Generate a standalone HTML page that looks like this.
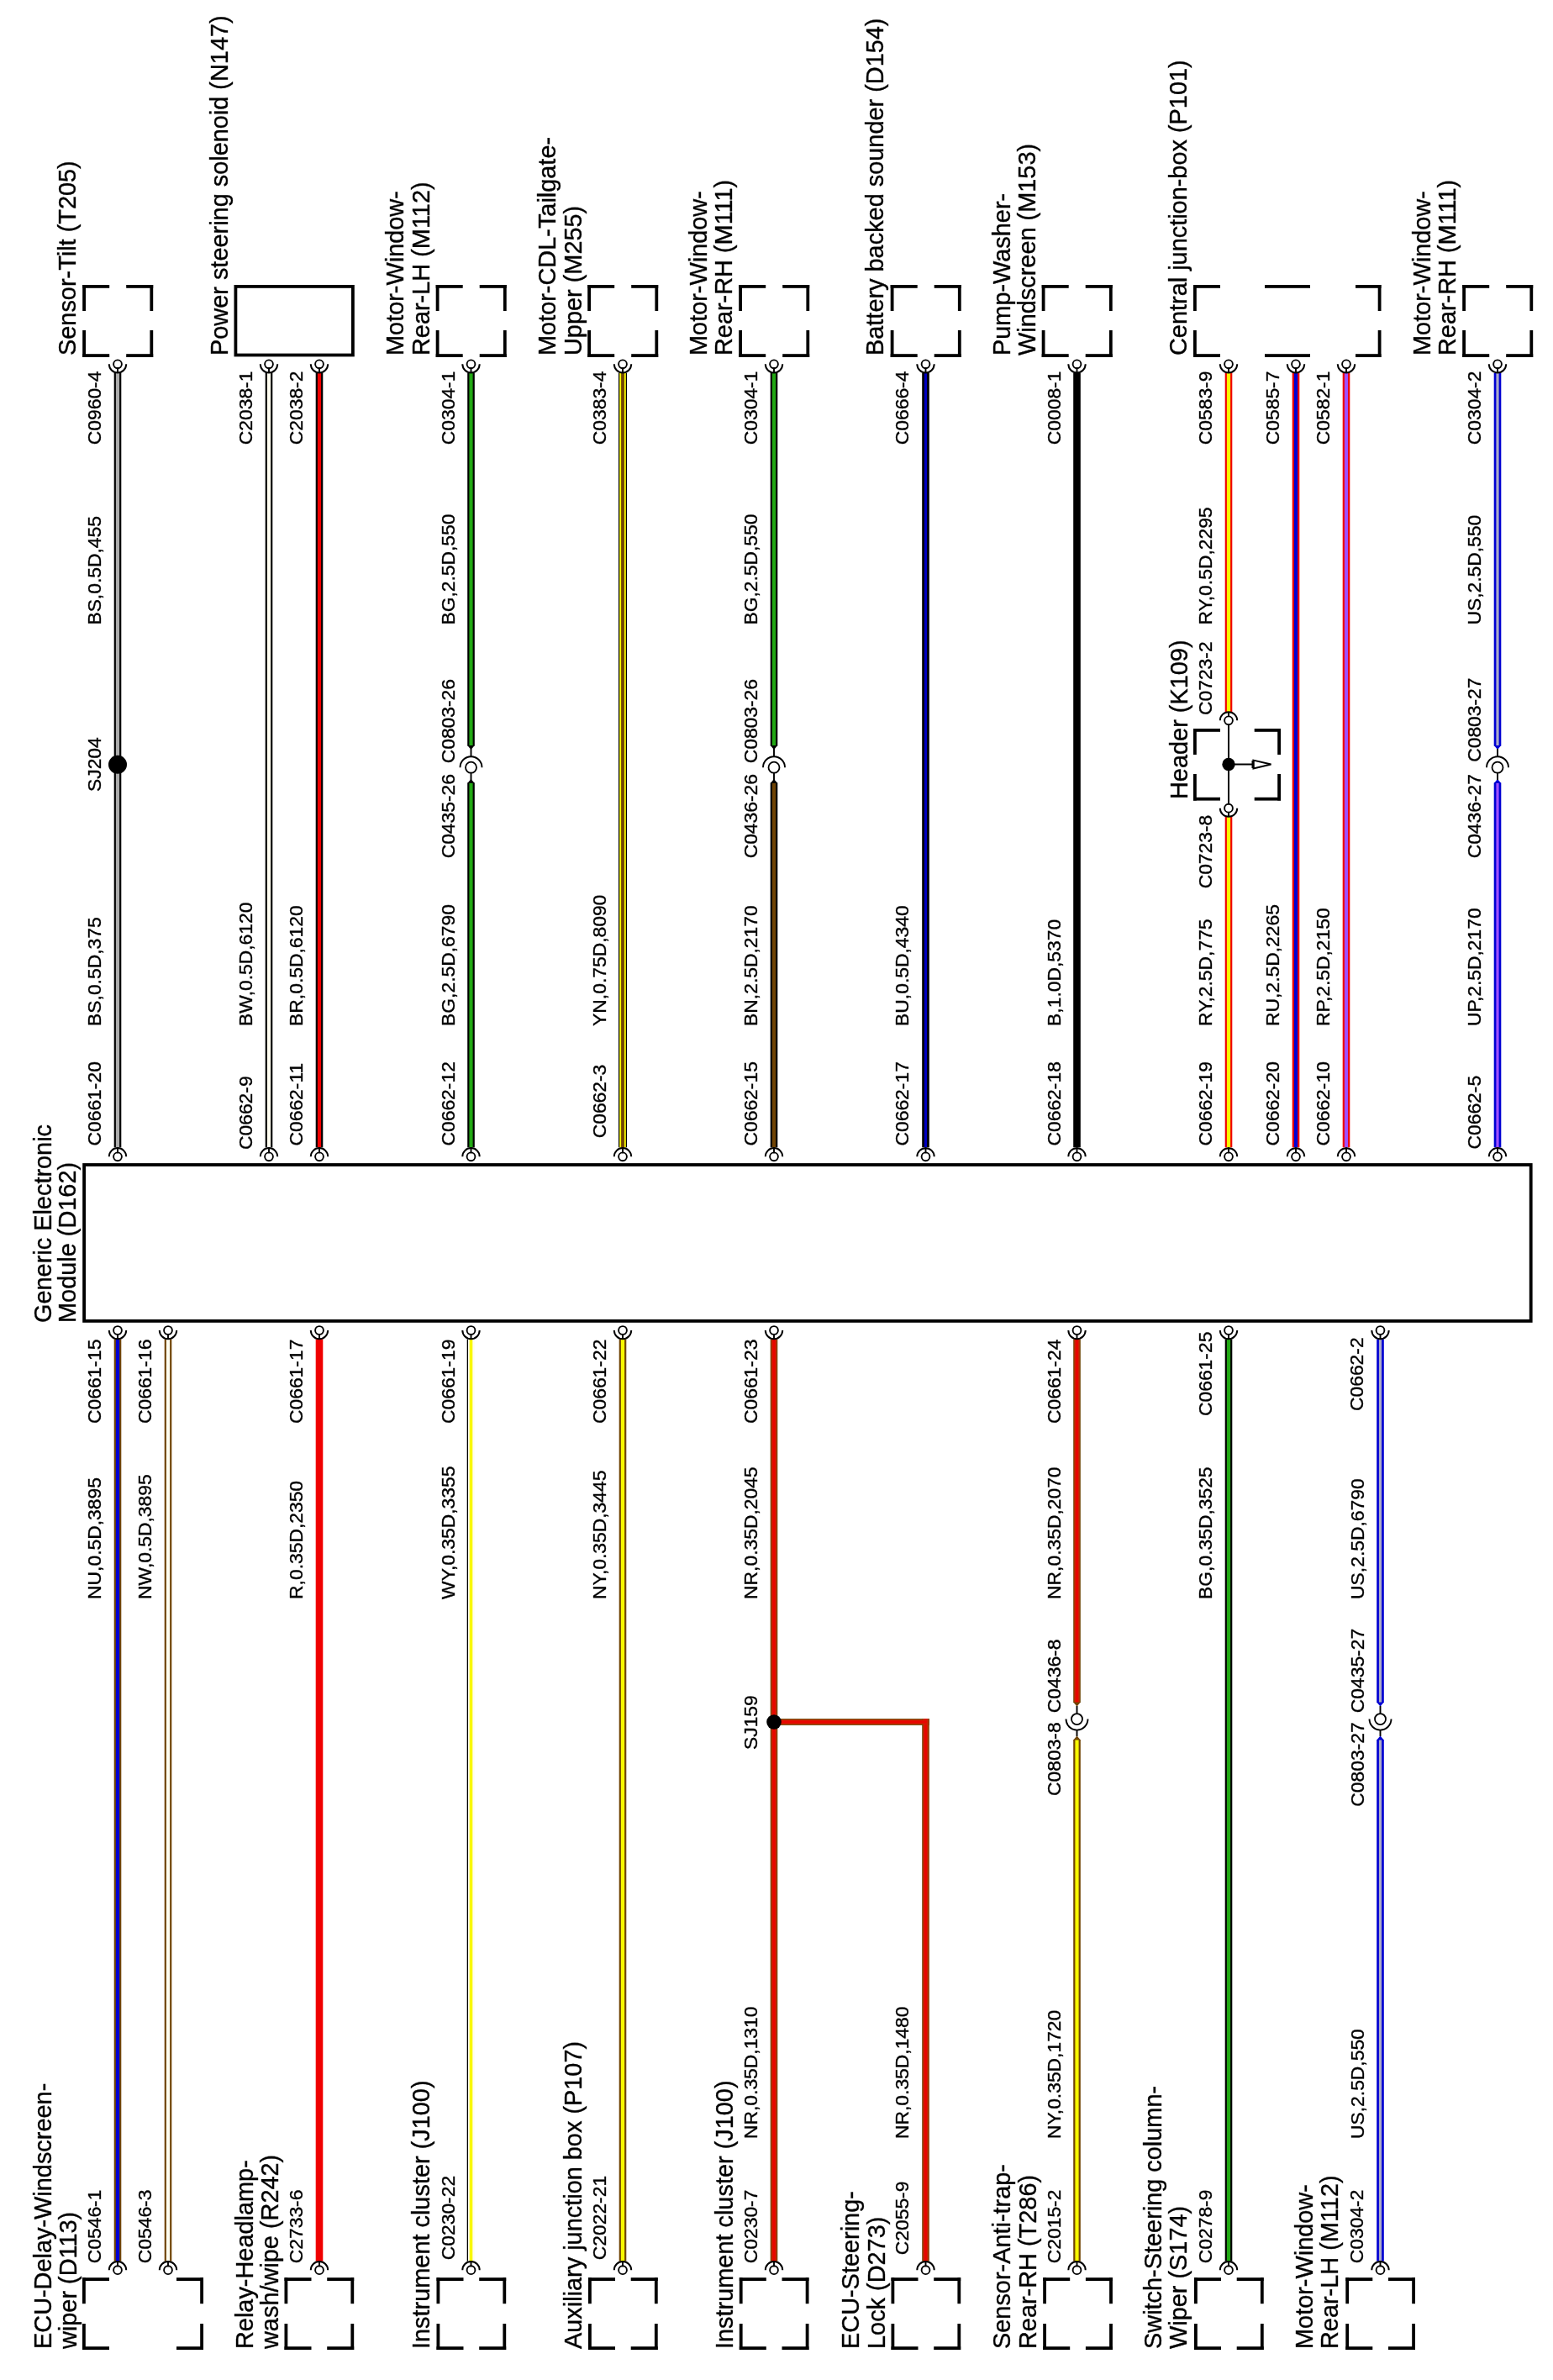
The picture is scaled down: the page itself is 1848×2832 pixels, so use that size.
<!DOCTYPE html>
<html><head><meta charset="utf-8"><title>Wiring diagram</title>
<style>
html,body{margin:0;padding:0;background:#fff;}
body{width:1848px;height:2832px;overflow:hidden;}
svg{display:block;will-change:transform;}
text{font-family:"Liberation Sans",sans-serif;fill:#000;stroke:#000;stroke-width:0.35px;}
</style></head><body>
<svg width="1848" height="2832" viewBox="0 0 1848 2832">
<rect width="1848" height="2832" fill="#fff"/>
<rect x="98.20" y="339.00" width="32.00" height="3.8" fill="#000"/>
<rect x="98.20" y="421.20" width="32.00" height="3.8" fill="#000"/>
<rect x="150.20" y="339.00" width="32.00" height="3.8" fill="#000"/>
<rect x="150.20" y="421.20" width="32.00" height="3.8" fill="#000"/>
<rect x="98.20" y="339.00" width="3.8" height="31.00" fill="#000"/>
<rect x="178.40" y="339.00" width="3.8" height="31.00" fill="#000"/>
<rect x="98.20" y="393.00" width="3.8" height="32.00" fill="#000"/>
<rect x="178.40" y="393.00" width="3.8" height="32.00" fill="#000"/>
<rect x="518.70" y="339.00" width="32.00" height="3.8" fill="#000"/>
<rect x="518.70" y="421.20" width="32.00" height="3.8" fill="#000"/>
<rect x="570.70" y="339.00" width="32.00" height="3.8" fill="#000"/>
<rect x="570.70" y="421.20" width="32.00" height="3.8" fill="#000"/>
<rect x="518.70" y="339.00" width="3.8" height="31.00" fill="#000"/>
<rect x="598.90" y="339.00" width="3.8" height="31.00" fill="#000"/>
<rect x="518.70" y="393.00" width="3.8" height="32.00" fill="#000"/>
<rect x="598.90" y="393.00" width="3.8" height="32.00" fill="#000"/>
<rect x="699.20" y="339.00" width="32.00" height="3.8" fill="#000"/>
<rect x="699.20" y="421.20" width="32.00" height="3.8" fill="#000"/>
<rect x="751.20" y="339.00" width="32.00" height="3.8" fill="#000"/>
<rect x="751.20" y="421.20" width="32.00" height="3.8" fill="#000"/>
<rect x="699.20" y="339.00" width="3.8" height="31.00" fill="#000"/>
<rect x="779.40" y="339.00" width="3.8" height="31.00" fill="#000"/>
<rect x="699.20" y="393.00" width="3.8" height="32.00" fill="#000"/>
<rect x="779.40" y="393.00" width="3.8" height="32.00" fill="#000"/>
<rect x="879.20" y="339.00" width="32.00" height="3.8" fill="#000"/>
<rect x="879.20" y="421.20" width="32.00" height="3.8" fill="#000"/>
<rect x="931.20" y="339.00" width="32.00" height="3.8" fill="#000"/>
<rect x="931.20" y="421.20" width="32.00" height="3.8" fill="#000"/>
<rect x="879.20" y="339.00" width="3.8" height="31.00" fill="#000"/>
<rect x="959.40" y="339.00" width="3.8" height="31.00" fill="#000"/>
<rect x="879.20" y="393.00" width="3.8" height="32.00" fill="#000"/>
<rect x="959.40" y="393.00" width="3.8" height="32.00" fill="#000"/>
<rect x="1059.70" y="339.00" width="32.00" height="3.8" fill="#000"/>
<rect x="1059.70" y="421.20" width="32.00" height="3.8" fill="#000"/>
<rect x="1111.70" y="339.00" width="32.00" height="3.8" fill="#000"/>
<rect x="1111.70" y="421.20" width="32.00" height="3.8" fill="#000"/>
<rect x="1059.70" y="339.00" width="3.8" height="31.00" fill="#000"/>
<rect x="1139.90" y="339.00" width="3.8" height="31.00" fill="#000"/>
<rect x="1059.70" y="393.00" width="3.8" height="32.00" fill="#000"/>
<rect x="1139.90" y="393.00" width="3.8" height="32.00" fill="#000"/>
<rect x="1239.70" y="339.00" width="32.00" height="3.8" fill="#000"/>
<rect x="1239.70" y="421.20" width="32.00" height="3.8" fill="#000"/>
<rect x="1291.70" y="339.00" width="32.00" height="3.8" fill="#000"/>
<rect x="1291.70" y="421.20" width="32.00" height="3.8" fill="#000"/>
<rect x="1239.70" y="339.00" width="3.8" height="31.00" fill="#000"/>
<rect x="1319.90" y="339.00" width="3.8" height="31.00" fill="#000"/>
<rect x="1239.70" y="393.00" width="3.8" height="32.00" fill="#000"/>
<rect x="1319.90" y="393.00" width="3.8" height="32.00" fill="#000"/>
<rect x="1740.20" y="339.00" width="32.00" height="3.8" fill="#000"/>
<rect x="1740.20" y="421.20" width="32.00" height="3.8" fill="#000"/>
<rect x="1792.20" y="339.00" width="32.00" height="3.8" fill="#000"/>
<rect x="1792.20" y="421.20" width="32.00" height="3.8" fill="#000"/>
<rect x="1740.20" y="339.00" width="3.8" height="31.00" fill="#000"/>
<rect x="1820.40" y="339.00" width="3.8" height="31.00" fill="#000"/>
<rect x="1740.20" y="393.00" width="3.8" height="32.00" fill="#000"/>
<rect x="1820.40" y="393.00" width="3.8" height="32.00" fill="#000"/>
<rect x="280.40" y="340.90" width="139.50" height="81.60" fill="none" stroke="#000" stroke-width="3.8"/>
<rect x="1420.00" y="339.00" width="32.00" height="3.8" fill="#000"/>
<rect x="1420.00" y="421.20" width="32.00" height="3.8" fill="#000"/>
<rect x="1505.00" y="339.00" width="54.00" height="3.8" fill="#000"/>
<rect x="1505.00" y="421.20" width="54.00" height="3.8" fill="#000"/>
<rect x="1613.00" y="339.00" width="30.50" height="3.8" fill="#000"/>
<rect x="1613.00" y="421.20" width="30.50" height="3.8" fill="#000"/>
<rect x="1420.00" y="339.00" width="3.8" height="31.00" fill="#000"/>
<rect x="1639.70" y="339.00" width="3.8" height="31.00" fill="#000"/>
<rect x="1420.00" y="393.00" width="3.8" height="32.00" fill="#000"/>
<rect x="1639.70" y="393.00" width="3.8" height="32.00" fill="#000"/>
<rect x="100.10" y="1386.00" width="1721.60" height="185.90" fill="none" stroke="#000" stroke-width="3.8"/>
<text transform="translate(90,423.0) rotate(-90) scale(1,1.0)" font-size="28.9">Sensor-Tilt (T205)</text>
<text transform="translate(271,423.0) rotate(-90) scale(1,1.0)" font-size="28.9">Power steering solenoid (N147)</text>
<text transform="translate(480,423.0) rotate(-90) scale(1,1.0)" font-size="28.9">Motor-Window-</text>
<text transform="translate(511,423.0) rotate(-90) scale(1,1.0)" font-size="28.9">Rear-LH (M112)</text>
<text transform="translate(660.5,423.0) rotate(-90) scale(1,1.0)" font-size="28.9">Motor-CDL-Tailgate-</text>
<text transform="translate(691.5,423.0) rotate(-90) scale(1,1.0)" font-size="28.9">Upper (M255)</text>
<text transform="translate(840.5,423.0) rotate(-90) scale(1,1.0)" font-size="28.9">Motor-Window-</text>
<text transform="translate(871.3,423.0) rotate(-90) scale(1,1.0)" font-size="28.9">Rear-RH (M111)</text>
<text transform="translate(1050.5,423.0) rotate(-90) scale(1,1.0)" font-size="28.9">Battery backed sounder (D154)</text>
<text transform="translate(1201.5,423.0) rotate(-90) scale(1,1.0)" font-size="28.9">Pump-Washer-</text>
<text transform="translate(1232.3,423.0) rotate(-90) scale(1,1.0)" font-size="28.9">Windscreen (M153)</text>
<text transform="translate(1412,423.0) rotate(-90) scale(1,1.0)" font-size="28.9">Central junction-box (P101)</text>
<text transform="translate(1701.5,423.0) rotate(-90) scale(1,1.0)" font-size="28.9">Motor-Window-</text>
<text transform="translate(1732,423.0) rotate(-90) scale(1,1.0)" font-size="28.9">Rear-RH (M111)</text>
<rect x="135.70" y="443.80" width="8.60" height="921.50" fill="#000000"/>
<rect x="137.90" y="443.80" width="4.20" height="921.50" fill="#ababab"/>
<rect x="315.70" y="443.80" width="8.60" height="921.50" fill="#000000"/>
<rect x="317.90" y="443.80" width="4.20" height="921.50" fill="#fffdf0"/>
<rect x="375.70" y="443.80" width="8.60" height="921.50" fill="#000000"/>
<rect x="377.90" y="443.80" width="4.20" height="921.50" fill="#f00000"/>
<rect x="556.20" y="443.80" width="8.60" height="443.70" fill="#000000"/>
<rect x="558.40" y="443.80" width="4.20" height="443.70" fill="#22a814"/>
<path d="M556.20 887.00 L560.50 892.00 L564.80 887.00Z" fill="#000000"/>
<rect x="556.20" y="931.50" width="8.60" height="433.80" fill="#000000"/>
<rect x="558.40" y="931.50" width="4.20" height="433.80" fill="#22a814"/>
<path d="M556.20 932.00 L560.50 927.00 L564.80 932.00Z" fill="#000000"/>
<rect x="736.00" y="443.80" width="10.00" height="921.50" fill="#000000"/>
<rect x="737.20" y="443.80" width="7.60" height="921.50" fill="#f8f800"/>
<rect x="739.10" y="443.80" width="3.80" height="921.50" fill="#704404"/>
<rect x="916.70" y="443.80" width="8.60" height="443.70" fill="#000000"/>
<rect x="918.90" y="443.80" width="4.20" height="443.70" fill="#22a814"/>
<path d="M916.70 887.00 L921.00 892.00 L925.30 887.00Z" fill="#000000"/>
<rect x="916.70" y="931.50" width="8.60" height="433.80" fill="#000000"/>
<rect x="918.90" y="931.50" width="4.20" height="433.80" fill="#704404"/>
<path d="M916.70 932.00 L921.00 927.00 L925.30 932.00Z" fill="#000000"/>
<rect x="1097.20" y="443.80" width="8.60" height="921.50" fill="#000000"/>
<rect x="1099.90" y="443.80" width="3.20" height="921.50" fill="#0000c0"/>
<rect x="1277.20" y="443.80" width="8.60" height="921.50" fill="#000000"/>
<rect x="1457.70" y="443.80" width="8.60" height="403.70" fill="#f00000"/>
<rect x="1459.90" y="443.80" width="4.20" height="403.70" fill="#f8f800"/>
<rect x="1457.70" y="972.00" width="8.60" height="393.30" fill="#f00000"/>
<rect x="1459.90" y="972.00" width="4.20" height="393.30" fill="#f8f800"/>
<rect x="1537.70" y="443.80" width="8.60" height="921.50" fill="#f00000"/>
<rect x="1539.90" y="443.80" width="4.20" height="921.50" fill="#0000d2"/>
<rect x="1597.70" y="443.80" width="8.60" height="921.50" fill="#f00000"/>
<rect x="1599.90" y="443.80" width="4.20" height="921.50" fill="#a050ff"/>
<rect x="1777.70" y="443.80" width="8.60" height="443.70" fill="#0000d2"/>
<rect x="1780.40" y="443.80" width="3.20" height="443.70" fill="#acacc8"/>
<path d="M1777.70 887.00 L1782.00 892.00 L1786.30 887.00Z" fill="#0000d2"/>
<rect x="1777.70" y="931.50" width="8.60" height="433.80" fill="#0000d2"/>
<rect x="1780.40" y="931.50" width="3.20" height="433.80" fill="#a050ff"/>
<path d="M1777.70 932.00 L1782.00 927.00 L1786.30 932.00Z" fill="#0000d2"/>
<circle cx="140" cy="433.3" r="4.9" fill="#fff" stroke="#000" stroke-width="1.9"/>
<path d="M129.8 433.3 A10.2 10.2 0 0 0 150.2 433.3" fill="none" stroke="#000" stroke-width="2"/>
<rect x="139.05" y="437.30" width="1.9" height="6.50" fill="#000"/>
<circle cx="140" cy="1376.3" r="4.9" fill="#fff" stroke="#000" stroke-width="1.9"/>
<path d="M129.8 1376.3 A10.2 10.2 0 0 1 150.2 1376.3" fill="none" stroke="#000" stroke-width="2"/>
<rect x="139.05" y="1365.30" width="1.9" height="7.00" fill="#000"/>
<circle cx="320" cy="433.3" r="4.9" fill="#fff" stroke="#000" stroke-width="1.9"/>
<path d="M309.8 433.3 A10.2 10.2 0 0 0 330.2 433.3" fill="none" stroke="#000" stroke-width="2"/>
<rect x="319.05" y="437.30" width="1.9" height="6.50" fill="#000"/>
<circle cx="320" cy="1376.3" r="4.9" fill="#fff" stroke="#000" stroke-width="1.9"/>
<path d="M309.8 1376.3 A10.2 10.2 0 0 1 330.2 1376.3" fill="none" stroke="#000" stroke-width="2"/>
<rect x="319.05" y="1365.30" width="1.9" height="7.00" fill="#000"/>
<circle cx="380" cy="433.3" r="4.9" fill="#fff" stroke="#000" stroke-width="1.9"/>
<path d="M369.8 433.3 A10.2 10.2 0 0 0 390.2 433.3" fill="none" stroke="#000" stroke-width="2"/>
<rect x="379.05" y="437.30" width="1.9" height="6.50" fill="#000"/>
<circle cx="380" cy="1376.3" r="4.9" fill="#fff" stroke="#000" stroke-width="1.9"/>
<path d="M369.8 1376.3 A10.2 10.2 0 0 1 390.2 1376.3" fill="none" stroke="#000" stroke-width="2"/>
<rect x="379.05" y="1365.30" width="1.9" height="7.00" fill="#000"/>
<circle cx="560.5" cy="433.3" r="4.9" fill="#fff" stroke="#000" stroke-width="1.9"/>
<path d="M550.3 433.3 A10.2 10.2 0 0 0 570.7 433.3" fill="none" stroke="#000" stroke-width="2"/>
<rect x="559.55" y="437.30" width="1.9" height="6.50" fill="#000"/>
<circle cx="560.5" cy="1376.3" r="4.9" fill="#fff" stroke="#000" stroke-width="1.9"/>
<path d="M550.3 1376.3 A10.2 10.2 0 0 1 570.7 1376.3" fill="none" stroke="#000" stroke-width="2"/>
<rect x="559.55" y="1365.30" width="1.9" height="7.00" fill="#000"/>
<circle cx="741" cy="433.3" r="4.9" fill="#fff" stroke="#000" stroke-width="1.9"/>
<path d="M730.8 433.3 A10.2 10.2 0 0 0 751.2 433.3" fill="none" stroke="#000" stroke-width="2"/>
<rect x="740.05" y="437.30" width="1.9" height="6.50" fill="#000"/>
<circle cx="741" cy="1376.3" r="4.9" fill="#fff" stroke="#000" stroke-width="1.9"/>
<path d="M730.8 1376.3 A10.2 10.2 0 0 1 751.2 1376.3" fill="none" stroke="#000" stroke-width="2"/>
<rect x="740.05" y="1365.30" width="1.9" height="7.00" fill="#000"/>
<circle cx="921" cy="433.3" r="4.9" fill="#fff" stroke="#000" stroke-width="1.9"/>
<path d="M910.8 433.3 A10.2 10.2 0 0 0 931.2 433.3" fill="none" stroke="#000" stroke-width="2"/>
<rect x="920.05" y="437.30" width="1.9" height="6.50" fill="#000"/>
<circle cx="921" cy="1376.3" r="4.9" fill="#fff" stroke="#000" stroke-width="1.9"/>
<path d="M910.8 1376.3 A10.2 10.2 0 0 1 931.2 1376.3" fill="none" stroke="#000" stroke-width="2"/>
<rect x="920.05" y="1365.30" width="1.9" height="7.00" fill="#000"/>
<circle cx="1101.5" cy="433.3" r="4.9" fill="#fff" stroke="#000" stroke-width="1.9"/>
<path d="M1091.3 433.3 A10.2 10.2 0 0 0 1111.7 433.3" fill="none" stroke="#000" stroke-width="2"/>
<rect x="1100.55" y="437.30" width="1.9" height="6.50" fill="#000"/>
<circle cx="1101.5" cy="1376.3" r="4.9" fill="#fff" stroke="#000" stroke-width="1.9"/>
<path d="M1091.3 1376.3 A10.2 10.2 0 0 1 1111.7 1376.3" fill="none" stroke="#000" stroke-width="2"/>
<rect x="1100.55" y="1365.30" width="1.9" height="7.00" fill="#000"/>
<circle cx="1281.5" cy="433.3" r="4.9" fill="#fff" stroke="#000" stroke-width="1.9"/>
<path d="M1271.3 433.3 A10.2 10.2 0 0 0 1291.7 433.3" fill="none" stroke="#000" stroke-width="2"/>
<rect x="1280.55" y="437.30" width="1.9" height="6.50" fill="#000"/>
<circle cx="1281.5" cy="1376.3" r="4.9" fill="#fff" stroke="#000" stroke-width="1.9"/>
<path d="M1271.3 1376.3 A10.2 10.2 0 0 1 1291.7 1376.3" fill="none" stroke="#000" stroke-width="2"/>
<rect x="1280.55" y="1365.30" width="1.9" height="7.00" fill="#000"/>
<circle cx="1462" cy="433.3" r="4.9" fill="#fff" stroke="#000" stroke-width="1.9"/>
<path d="M1451.8 433.3 A10.2 10.2 0 0 0 1472.2 433.3" fill="none" stroke="#000" stroke-width="2"/>
<rect x="1461.05" y="437.30" width="1.9" height="6.50" fill="#000"/>
<circle cx="1462" cy="1376.3" r="4.9" fill="#fff" stroke="#000" stroke-width="1.9"/>
<path d="M1451.8 1376.3 A10.2 10.2 0 0 1 1472.2 1376.3" fill="none" stroke="#000" stroke-width="2"/>
<rect x="1461.05" y="1365.30" width="1.9" height="7.00" fill="#000"/>
<circle cx="1542" cy="433.3" r="4.9" fill="#fff" stroke="#000" stroke-width="1.9"/>
<path d="M1531.8 433.3 A10.2 10.2 0 0 0 1552.2 433.3" fill="none" stroke="#000" stroke-width="2"/>
<rect x="1541.05" y="437.30" width="1.9" height="6.50" fill="#000"/>
<circle cx="1542" cy="1376.3" r="4.9" fill="#fff" stroke="#000" stroke-width="1.9"/>
<path d="M1531.8 1376.3 A10.2 10.2 0 0 1 1552.2 1376.3" fill="none" stroke="#000" stroke-width="2"/>
<rect x="1541.05" y="1365.30" width="1.9" height="7.00" fill="#000"/>
<circle cx="1602" cy="433.3" r="4.9" fill="#fff" stroke="#000" stroke-width="1.9"/>
<path d="M1591.8 433.3 A10.2 10.2 0 0 0 1612.2 433.3" fill="none" stroke="#000" stroke-width="2"/>
<rect x="1601.05" y="437.30" width="1.9" height="6.50" fill="#000"/>
<circle cx="1602" cy="1376.3" r="4.9" fill="#fff" stroke="#000" stroke-width="1.9"/>
<path d="M1591.8 1376.3 A10.2 10.2 0 0 1 1612.2 1376.3" fill="none" stroke="#000" stroke-width="2"/>
<rect x="1601.05" y="1365.30" width="1.9" height="7.00" fill="#000"/>
<circle cx="1782" cy="433.3" r="4.9" fill="#fff" stroke="#000" stroke-width="1.9"/>
<path d="M1771.8 433.3 A10.2 10.2 0 0 0 1792.2 433.3" fill="none" stroke="#000" stroke-width="2"/>
<rect x="1781.05" y="437.30" width="1.9" height="6.50" fill="#000"/>
<circle cx="1782" cy="1376.3" r="4.9" fill="#fff" stroke="#000" stroke-width="1.9"/>
<path d="M1771.8 1376.3 A10.2 10.2 0 0 1 1792.2 1376.3" fill="none" stroke="#000" stroke-width="2"/>
<rect x="1781.05" y="1365.30" width="1.9" height="7.00" fill="#000"/>
<circle cx="140" cy="909.8" r="11" fill="#000"/>
<text transform="translate(120,942) rotate(-90) scale(1,1.0)" font-size="22.85">SJ204</text>
<circle cx="560.5" cy="913.2" r="6.5" fill="#fff" stroke="#000" stroke-width="1.8"/>
<path d="M547.5 913.2 A13.0 13.0 0 0 1 573.5 913.2" fill="none" stroke="#000" stroke-width="1.9"/>
<rect x="559.55" y="891.00" width="1.9" height="9.70" fill="#000"/>
<rect x="559.55" y="919.20" width="1.9" height="8.80" fill="#000"/>
<circle cx="921" cy="913.2" r="6.5" fill="#fff" stroke="#000" stroke-width="1.8"/>
<path d="M908.0 913.2 A13.0 13.0 0 0 1 934.0 913.2" fill="none" stroke="#000" stroke-width="1.9"/>
<rect x="920.05" y="891.00" width="1.9" height="9.70" fill="#000"/>
<rect x="920.05" y="919.20" width="1.9" height="8.80" fill="#000"/>
<circle cx="1782" cy="913.2" r="6.5" fill="#fff" stroke="#000" stroke-width="1.8"/>
<path d="M1769.0 913.2 A13.0 13.0 0 0 1 1795.0 913.2" fill="none" stroke="#000" stroke-width="1.9"/>
<rect x="1781.05" y="891.00" width="1.9" height="9.70" fill="#000"/>
<rect x="1781.05" y="919.20" width="1.9" height="8.80" fill="#000"/>
<rect x="1420.00" y="867.00" width="32.00" height="3.8" fill="#000"/>
<rect x="1420.00" y="948.80" width="32.00" height="3.8" fill="#000"/>
<rect x="1492.70" y="867.00" width="31.30" height="3.8" fill="#000"/>
<rect x="1492.70" y="948.80" width="31.30" height="3.8" fill="#000"/>
<rect x="1420.00" y="867.00" width="3.8" height="31.00" fill="#000"/>
<rect x="1520.20" y="867.00" width="3.8" height="31.00" fill="#000"/>
<rect x="1420.00" y="921.00" width="3.8" height="31.60" fill="#000"/>
<rect x="1520.20" y="921.00" width="3.8" height="31.60" fill="#000"/>
<circle cx="1462" cy="857.3" r="4.9" fill="#fff" stroke="#000" stroke-width="1.9"/>
<path d="M1451.8 857.3 A10.2 10.2 0 0 1 1472.2 857.3" fill="none" stroke="#000" stroke-width="2"/>
<circle cx="1462" cy="961.7" r="4.9" fill="#fff" stroke="#000" stroke-width="1.9"/>
<path d="M1451.8 961.7 A10.2 10.2 0 0 0 1472.2 961.7" fill="none" stroke="#000" stroke-width="2"/>
<rect x="1461.00" y="862.00" width="2.0" height="95.00" fill="#000"/>
<rect x="1461.05" y="847.00" width="1.9" height="6.00" fill="#000"/>
<rect x="1461.05" y="966.00" width="1.9" height="6.00" fill="#000"/>
<circle cx="1462" cy="909.5" r="7.7" fill="#000"/>
<rect x="1462" y="908.5" width="30" height="2" fill="#000"/>
<path d="M1491.5 904.6 L1512.5 909.5 L1491.5 914.4 Z" fill="#fff" stroke="#000" stroke-width="2"/>
<rect x="1489.5" y="905" width="3" height="9" fill="#000"/>
<text transform="translate(1412.5,951) rotate(-90) scale(1,1.0)" font-size="28.9">Header (K109)</text>
<text transform="translate(1442,851) rotate(-90) scale(1,1.0)" font-size="22.85">C0723-2</text>
<text transform="translate(1442,969.7) rotate(-90) scale(1,1.0)" font-size="22.85" text-anchor="end">C0723-8</text>
<text transform="translate(120,529.2) rotate(-90) scale(1,1.0)" font-size="22.85">C0960-4</text>
<text transform="translate(300,529.2) rotate(-90) scale(1,1.0)" font-size="22.85">C2038-1</text>
<text transform="translate(360,529.2) rotate(-90) scale(1,1.0)" font-size="22.85">C2038-2</text>
<text transform="translate(540.5,529.2) rotate(-90) scale(1,1.0)" font-size="22.85">C0304-1</text>
<text transform="translate(721,529.2) rotate(-90) scale(1,1.0)" font-size="22.85">C0383-4</text>
<text transform="translate(901,529.2) rotate(-90) scale(1,1.0)" font-size="22.85">C0304-1</text>
<text transform="translate(1081,529.2) rotate(-90) scale(1,1.0)" font-size="22.85">C0666-4</text>
<text transform="translate(1261.5,529.2) rotate(-90) scale(1,1.0)" font-size="22.85">C0008-1</text>
<text transform="translate(1442,529.2) rotate(-90) scale(1,1.0)" font-size="22.85">C0583-9</text>
<text transform="translate(1522,529.2) rotate(-90) scale(1,1.0)" font-size="22.85">C0585-7</text>
<text transform="translate(1582,529.2) rotate(-90) scale(1,1.0)" font-size="22.85">C0582-1</text>
<text transform="translate(1762,529.2) rotate(-90) scale(1,1.0)" font-size="22.85">C0304-2</text>
<text transform="translate(120,743.6) rotate(-90) scale(1,1.0)" font-size="22.85">BS,0.5D,455</text>
<text transform="translate(540.5,743.6) rotate(-90) scale(1,1.0)" font-size="22.85">BG,2.5D,550</text>
<text transform="translate(901,743.6) rotate(-90) scale(1,1.0)" font-size="22.85">BG,2.5D,550</text>
<text transform="translate(1442,743.6) rotate(-90) scale(1,1.0)" font-size="22.85">RY,0.5D,2295</text>
<text transform="translate(1762,743.6) rotate(-90) scale(1,1.0)" font-size="22.85">US,2.5D,550</text>
<text transform="translate(540.5,908.3) rotate(-90) scale(1,1.0)" font-size="22.85">C0803-26</text>
<text transform="translate(540.5,921.0) rotate(-90) scale(1,1.0)" font-size="22.85" text-anchor="end">C0435-26</text>
<text transform="translate(901,908.3) rotate(-90) scale(1,1.0)" font-size="22.85">C0803-26</text>
<text transform="translate(901,921.0) rotate(-90) scale(1,1.0)" font-size="22.85" text-anchor="end">C0436-26</text>
<text transform="translate(1762,906.8) rotate(-90) scale(1,1.0)" font-size="22.85">C0803-27</text>
<text transform="translate(1762,921.0) rotate(-90) scale(1,1.0)" font-size="22.85" text-anchor="end">C0436-27</text>
<text transform="translate(120,1220.9) rotate(-90) scale(1,1.0)" font-size="22.85">BS,0.5D,375</text>
<text transform="translate(300,1220.9) rotate(-90) scale(1,1.0)" font-size="22.85">BW,0.5D,6120</text>
<text transform="translate(360,1220.9) rotate(-90) scale(1,1.0)" font-size="22.85">BR,0.5D,6120</text>
<text transform="translate(540.5,1220.9) rotate(-90) scale(1,1.0)" font-size="22.85">BG,2.5D,6790</text>
<text transform="translate(721,1220.9) rotate(-90) scale(1,1.0)" font-size="22.85">YN,0.75D,8090</text>
<text transform="translate(901,1220.9) rotate(-90) scale(1,1.0)" font-size="22.85">BN,2.5D,2170</text>
<text transform="translate(1081,1220.9) rotate(-90) scale(1,1.0)" font-size="22.85">BU,0.5D,4340</text>
<text transform="translate(1261.5,1220.9) rotate(-90) scale(1,1.0)" font-size="22.85">B,1.0D,5370</text>
<text transform="translate(1442,1220.9) rotate(-90) scale(1,1.0)" font-size="22.85">RY,2.5D,775</text>
<text transform="translate(1522,1220.9) rotate(-90) scale(1,1.0)" font-size="22.85">RU,2.5D,2265</text>
<text transform="translate(1582,1220.9) rotate(-90) scale(1,1.0)" font-size="22.85">RP,2.5D,2150</text>
<text transform="translate(1762,1220.9) rotate(-90) scale(1,1.0)" font-size="22.85">UP,2.5D,2170</text>
<text transform="translate(120,1363.5) rotate(-90) scale(1,1.0)" font-size="22.85">C0661-20</text>
<text transform="translate(300,1368.0) rotate(-90) scale(1,1.0)" font-size="22.85">C0662-9</text>
<text transform="translate(360,1363.5) rotate(-90) scale(1,1.0)" font-size="22.85">C0662-11</text>
<text transform="translate(540.5,1363.5) rotate(-90) scale(1,1.0)" font-size="22.85">C0662-12</text>
<text transform="translate(721,1354.3) rotate(-90) scale(1,1.0)" font-size="22.85">C0662-3</text>
<text transform="translate(901,1363.5) rotate(-90) scale(1,1.0)" font-size="22.85">C0662-15</text>
<text transform="translate(1081,1363.5) rotate(-90) scale(1,1.0)" font-size="22.85">C0662-17</text>
<text transform="translate(1261.5,1363.5) rotate(-90) scale(1,1.0)" font-size="22.85">C0662-18</text>
<text transform="translate(1442,1363.5) rotate(-90) scale(1,1.0)" font-size="22.85">C0662-19</text>
<text transform="translate(1522,1363.5) rotate(-90) scale(1,1.0)" font-size="22.85">C0662-20</text>
<text transform="translate(1582,1363.5) rotate(-90) scale(1,1.0)" font-size="22.85">C0662-10</text>
<text transform="translate(1762,1367.5) rotate(-90) scale(1,1.0)" font-size="22.85">C0662-5</text>
<text transform="translate(60.7,1574) rotate(-90) scale(1,1.0)" font-size="28.9">Generic Electronic</text>
<text transform="translate(89.8,1574) rotate(-90) scale(1,1.0)" font-size="28.9">Module (D162)</text>
<rect x="135.70" y="1593.50" width="8.60" height="1097.20" fill="#704404"/>
<rect x="137.90" y="1593.50" width="4.20" height="1097.20" fill="#0000d2"/>
<rect x="195.70" y="1593.50" width="8.60" height="1097.20" fill="#704404"/>
<rect x="197.90" y="1593.50" width="4.20" height="1097.20" fill="#fffdf0"/>
<rect x="375.70" y="1593.50" width="8.60" height="1097.20" fill="#f00000"/>
<rect x="556.20" y="1593.50" width="8.60" height="1097.20" fill="#fffdf0"/>
<rect x="558.70" y="1593.50" width="3.60" height="1097.20" fill="#f8f800"/>
<rect x="555.70" y="1593.50" width="1.3" height="1097.20" fill="#000"/>
<rect x="736.70" y="1593.50" width="8.60" height="1097.20" fill="#704404"/>
<rect x="738.90" y="1593.50" width="4.20" height="1097.20" fill="#f8f800"/>
<rect x="916.70" y="1593.50" width="8.60" height="1097.20" fill="#704404"/>
<rect x="917.80" y="1593.50" width="6.40" height="1097.20" fill="#c52800"/>
<rect x="919.30" y="1593.50" width="3.40" height="1097.20" fill="#e80600"/>
<rect x="921" y="2045.1" width="184.80" height="7.8" fill="#704404"/>
<rect x="1097.20" y="2045.10" width="8.60" height="645.60" fill="#704404"/>
<rect x="1098.30" y="2045.10" width="6.40" height="645.60" fill="#c52800"/>
<rect x="1099.80" y="2045.10" width="3.40" height="645.60" fill="#e80600"/>
<rect x="921" y="2046.2" width="183.70" height="5.6" fill="#c52800"/>
<rect x="921" y="2047.3" width="182.20" height="3.4" fill="#e80600"/>
<circle cx="921" cy="2049" r="8.8" fill="#000"/>
<text transform="translate(901,2082) rotate(-90) scale(1,1.0)" font-size="22.85">SJ159</text>
<rect x="1277.20" y="1593.50" width="8.60" height="432.50" fill="#704404"/>
<rect x="1278.30" y="1593.50" width="6.40" height="432.50" fill="#c52800"/>
<rect x="1279.80" y="1593.50" width="3.40" height="432.50" fill="#e80600"/>
<path d="M1277.20 2025.50 L1281.50 2030.50 L1285.80 2025.50Z" fill="#704404"/>
<rect x="1277.20" y="2070.00" width="8.60" height="620.70" fill="#704404"/>
<rect x="1279.40" y="2070.00" width="4.20" height="620.70" fill="#f8f800"/>
<path d="M1277.20 2070.50 L1281.50 2065.50 L1285.80 2070.50Z" fill="#704404"/>
<rect x="1457.70" y="1593.50" width="8.60" height="1097.20" fill="#000000"/>
<rect x="1459.90" y="1593.50" width="4.20" height="1097.20" fill="#22a814"/>
<rect x="1638.20" y="1593.50" width="8.60" height="432.50" fill="#0000d2"/>
<rect x="1640.90" y="1593.50" width="3.20" height="432.50" fill="#acacc8"/>
<path d="M1638.20 2025.50 L1642.50 2030.50 L1646.80 2025.50Z" fill="#0000d2"/>
<rect x="1638.20" y="2070.00" width="8.60" height="620.70" fill="#0000d2"/>
<rect x="1640.90" y="2070.00" width="3.20" height="620.70" fill="#acacc8"/>
<path d="M1638.20 2070.50 L1642.50 2065.50 L1646.80 2070.50Z" fill="#0000d2"/>
<circle cx="140" cy="2701.2" r="4.9" fill="#fff" stroke="#000" stroke-width="1.9"/>
<path d="M129.8 2701.2 A10.2 10.2 0 0 1 150.2 2701.2" fill="none" stroke="#000" stroke-width="2"/>
<rect x="139.05" y="2690.70" width="1.9" height="6.50" fill="#000"/>
<circle cx="200" cy="2701.2" r="4.9" fill="#fff" stroke="#000" stroke-width="1.9"/>
<path d="M189.8 2701.2 A10.2 10.2 0 0 1 210.2 2701.2" fill="none" stroke="#000" stroke-width="2"/>
<rect x="199.05" y="2690.70" width="1.9" height="6.50" fill="#000"/>
<circle cx="380" cy="2701.2" r="4.9" fill="#fff" stroke="#000" stroke-width="1.9"/>
<path d="M369.8 2701.2 A10.2 10.2 0 0 1 390.2 2701.2" fill="none" stroke="#000" stroke-width="2"/>
<rect x="379.05" y="2690.70" width="1.9" height="6.50" fill="#000"/>
<circle cx="560.5" cy="2701.2" r="4.9" fill="#fff" stroke="#000" stroke-width="1.9"/>
<path d="M550.3 2701.2 A10.2 10.2 0 0 1 570.7 2701.2" fill="none" stroke="#000" stroke-width="2"/>
<rect x="559.55" y="2690.70" width="1.9" height="6.50" fill="#000"/>
<circle cx="741" cy="2701.2" r="4.9" fill="#fff" stroke="#000" stroke-width="1.9"/>
<path d="M730.8 2701.2 A10.2 10.2 0 0 1 751.2 2701.2" fill="none" stroke="#000" stroke-width="2"/>
<rect x="740.05" y="2690.70" width="1.9" height="6.50" fill="#000"/>
<circle cx="921" cy="2701.2" r="4.9" fill="#fff" stroke="#000" stroke-width="1.9"/>
<path d="M910.8 2701.2 A10.2 10.2 0 0 1 931.2 2701.2" fill="none" stroke="#000" stroke-width="2"/>
<rect x="920.05" y="2690.70" width="1.9" height="6.50" fill="#000"/>
<circle cx="1101.5" cy="2701.2" r="4.9" fill="#fff" stroke="#000" stroke-width="1.9"/>
<path d="M1091.3 2701.2 A10.2 10.2 0 0 1 1111.7 2701.2" fill="none" stroke="#000" stroke-width="2"/>
<rect x="1100.55" y="2690.70" width="1.9" height="6.50" fill="#000"/>
<circle cx="1281.5" cy="2701.2" r="4.9" fill="#fff" stroke="#000" stroke-width="1.9"/>
<path d="M1271.3 2701.2 A10.2 10.2 0 0 1 1291.7 2701.2" fill="none" stroke="#000" stroke-width="2"/>
<rect x="1280.55" y="2690.70" width="1.9" height="6.50" fill="#000"/>
<circle cx="1462" cy="2701.2" r="4.9" fill="#fff" stroke="#000" stroke-width="1.9"/>
<path d="M1451.8 2701.2 A10.2 10.2 0 0 1 1472.2 2701.2" fill="none" stroke="#000" stroke-width="2"/>
<rect x="1461.05" y="2690.70" width="1.9" height="6.50" fill="#000"/>
<circle cx="1642.5" cy="2701.2" r="4.9" fill="#fff" stroke="#000" stroke-width="1.9"/>
<path d="M1632.3 2701.2 A10.2 10.2 0 0 1 1652.7 2701.2" fill="none" stroke="#000" stroke-width="2"/>
<rect x="1641.55" y="2690.70" width="1.9" height="6.50" fill="#000"/>
<circle cx="140" cy="1583.0" r="4.9" fill="#fff" stroke="#000" stroke-width="1.9"/>
<path d="M129.8 1583.0 A10.2 10.2 0 0 0 150.2 1583.0" fill="none" stroke="#000" stroke-width="2"/>
<rect x="139.05" y="1587.00" width="1.9" height="6.50" fill="#000"/>
<circle cx="200" cy="1583.0" r="4.9" fill="#fff" stroke="#000" stroke-width="1.9"/>
<path d="M189.8 1583.0 A10.2 10.2 0 0 0 210.2 1583.0" fill="none" stroke="#000" stroke-width="2"/>
<rect x="199.05" y="1587.00" width="1.9" height="6.50" fill="#000"/>
<circle cx="380" cy="1583.0" r="4.9" fill="#fff" stroke="#000" stroke-width="1.9"/>
<path d="M369.8 1583.0 A10.2 10.2 0 0 0 390.2 1583.0" fill="none" stroke="#000" stroke-width="2"/>
<rect x="379.05" y="1587.00" width="1.9" height="6.50" fill="#000"/>
<circle cx="560.5" cy="1583.0" r="4.9" fill="#fff" stroke="#000" stroke-width="1.9"/>
<path d="M550.3 1583.0 A10.2 10.2 0 0 0 570.7 1583.0" fill="none" stroke="#000" stroke-width="2"/>
<rect x="559.55" y="1587.00" width="1.9" height="6.50" fill="#000"/>
<circle cx="741" cy="1583.0" r="4.9" fill="#fff" stroke="#000" stroke-width="1.9"/>
<path d="M730.8 1583.0 A10.2 10.2 0 0 0 751.2 1583.0" fill="none" stroke="#000" stroke-width="2"/>
<rect x="740.05" y="1587.00" width="1.9" height="6.50" fill="#000"/>
<circle cx="921" cy="1583.0" r="4.9" fill="#fff" stroke="#000" stroke-width="1.9"/>
<path d="M910.8 1583.0 A10.2 10.2 0 0 0 931.2 1583.0" fill="none" stroke="#000" stroke-width="2"/>
<rect x="920.05" y="1587.00" width="1.9" height="6.50" fill="#000"/>
<circle cx="1281.5" cy="1583.0" r="4.9" fill="#fff" stroke="#000" stroke-width="1.9"/>
<path d="M1271.3 1583.0 A10.2 10.2 0 0 0 1291.7 1583.0" fill="none" stroke="#000" stroke-width="2"/>
<rect x="1280.55" y="1587.00" width="1.9" height="6.50" fill="#000"/>
<circle cx="1462" cy="1583.0" r="4.9" fill="#fff" stroke="#000" stroke-width="1.9"/>
<path d="M1451.8 1583.0 A10.2 10.2 0 0 0 1472.2 1583.0" fill="none" stroke="#000" stroke-width="2"/>
<rect x="1461.05" y="1587.00" width="1.9" height="6.50" fill="#000"/>
<circle cx="1642.5" cy="1583.0" r="4.9" fill="#fff" stroke="#000" stroke-width="1.9"/>
<path d="M1632.3 1583.0 A10.2 10.2 0 0 0 1652.7 1583.0" fill="none" stroke="#000" stroke-width="2"/>
<rect x="1641.55" y="1587.00" width="1.9" height="6.50" fill="#000"/>
<circle cx="1281.5" cy="2045.6" r="6.5" fill="#fff" stroke="#000" stroke-width="1.8"/>
<path d="M1268.5 2045.6 A13.0 13.0 0 0 0 1294.5 2045.6" fill="none" stroke="#000" stroke-width="1.9"/>
<rect x="1280.55" y="2030.00" width="1.9" height="9.60" fill="#000"/>
<rect x="1280.55" y="2058.10" width="1.9" height="7.90" fill="#000"/>
<circle cx="1642.5" cy="2045.6" r="6.5" fill="#fff" stroke="#000" stroke-width="1.8"/>
<path d="M1629.5 2045.6 A13.0 13.0 0 0 0 1655.5 2045.6" fill="none" stroke="#000" stroke-width="1.9"/>
<rect x="1641.55" y="2030.00" width="1.9" height="9.60" fill="#000"/>
<rect x="1641.55" y="2058.10" width="1.9" height="7.90" fill="#000"/>
<rect x="98.00" y="2710.20" width="32.00" height="3.8" fill="#000"/>
<rect x="98.00" y="2792.20" width="32.00" height="3.8" fill="#000"/>
<rect x="210.00" y="2710.20" width="32.00" height="3.8" fill="#000"/>
<rect x="210.00" y="2792.20" width="32.00" height="3.8" fill="#000"/>
<rect x="98.00" y="2710.20" width="3.8" height="31.00" fill="#000"/>
<rect x="238.20" y="2710.20" width="3.8" height="31.00" fill="#000"/>
<rect x="98.00" y="2765.00" width="3.8" height="31.00" fill="#000"/>
<rect x="238.20" y="2765.00" width="3.8" height="31.00" fill="#000"/>
<rect x="338.50" y="2710.20" width="32.00" height="3.8" fill="#000"/>
<rect x="338.50" y="2792.20" width="32.00" height="3.8" fill="#000"/>
<rect x="389.20" y="2710.20" width="32.00" height="3.8" fill="#000"/>
<rect x="389.20" y="2792.20" width="32.00" height="3.8" fill="#000"/>
<rect x="338.50" y="2710.20" width="3.8" height="31.00" fill="#000"/>
<rect x="417.40" y="2710.20" width="3.8" height="31.00" fill="#000"/>
<rect x="338.50" y="2765.00" width="3.8" height="31.00" fill="#000"/>
<rect x="417.40" y="2765.00" width="3.8" height="31.00" fill="#000"/>
<rect x="519.50" y="2710.20" width="32.00" height="3.8" fill="#000"/>
<rect x="519.50" y="2792.20" width="32.00" height="3.8" fill="#000"/>
<rect x="570.20" y="2710.20" width="32.00" height="3.8" fill="#000"/>
<rect x="570.20" y="2792.20" width="32.00" height="3.8" fill="#000"/>
<rect x="519.50" y="2710.20" width="3.8" height="31.00" fill="#000"/>
<rect x="598.40" y="2710.20" width="3.8" height="31.00" fill="#000"/>
<rect x="519.50" y="2765.00" width="3.8" height="31.00" fill="#000"/>
<rect x="598.40" y="2765.00" width="3.8" height="31.00" fill="#000"/>
<rect x="700.00" y="2710.20" width="32.00" height="3.8" fill="#000"/>
<rect x="700.00" y="2792.20" width="32.00" height="3.8" fill="#000"/>
<rect x="750.70" y="2710.20" width="32.00" height="3.8" fill="#000"/>
<rect x="750.70" y="2792.20" width="32.00" height="3.8" fill="#000"/>
<rect x="700.00" y="2710.20" width="3.8" height="31.00" fill="#000"/>
<rect x="778.90" y="2710.20" width="3.8" height="31.00" fill="#000"/>
<rect x="700.00" y="2765.00" width="3.8" height="31.00" fill="#000"/>
<rect x="778.90" y="2765.00" width="3.8" height="31.00" fill="#000"/>
<rect x="879.80" y="2710.20" width="32.00" height="3.8" fill="#000"/>
<rect x="879.80" y="2792.20" width="32.00" height="3.8" fill="#000"/>
<rect x="930.50" y="2710.20" width="32.00" height="3.8" fill="#000"/>
<rect x="930.50" y="2792.20" width="32.00" height="3.8" fill="#000"/>
<rect x="879.80" y="2710.20" width="3.8" height="31.00" fill="#000"/>
<rect x="958.70" y="2710.20" width="3.8" height="31.00" fill="#000"/>
<rect x="879.80" y="2765.00" width="3.8" height="31.00" fill="#000"/>
<rect x="958.70" y="2765.00" width="3.8" height="31.00" fill="#000"/>
<rect x="1060.50" y="2710.20" width="32.00" height="3.8" fill="#000"/>
<rect x="1060.50" y="2792.20" width="32.00" height="3.8" fill="#000"/>
<rect x="1111.20" y="2710.20" width="32.00" height="3.8" fill="#000"/>
<rect x="1111.20" y="2792.20" width="32.00" height="3.8" fill="#000"/>
<rect x="1060.50" y="2710.20" width="3.8" height="31.00" fill="#000"/>
<rect x="1139.40" y="2710.20" width="3.8" height="31.00" fill="#000"/>
<rect x="1060.50" y="2765.00" width="3.8" height="31.00" fill="#000"/>
<rect x="1139.40" y="2765.00" width="3.8" height="31.00" fill="#000"/>
<rect x="1241.20" y="2710.20" width="32.00" height="3.8" fill="#000"/>
<rect x="1241.20" y="2792.20" width="32.00" height="3.8" fill="#000"/>
<rect x="1291.90" y="2710.20" width="32.00" height="3.8" fill="#000"/>
<rect x="1291.90" y="2792.20" width="32.00" height="3.8" fill="#000"/>
<rect x="1241.20" y="2710.20" width="3.8" height="31.00" fill="#000"/>
<rect x="1320.10" y="2710.20" width="3.8" height="31.00" fill="#000"/>
<rect x="1241.20" y="2765.00" width="3.8" height="31.00" fill="#000"/>
<rect x="1320.10" y="2765.00" width="3.8" height="31.00" fill="#000"/>
<rect x="1421.00" y="2710.20" width="32.00" height="3.8" fill="#000"/>
<rect x="1421.00" y="2792.20" width="32.00" height="3.8" fill="#000"/>
<rect x="1471.70" y="2710.20" width="32.00" height="3.8" fill="#000"/>
<rect x="1471.70" y="2792.20" width="32.00" height="3.8" fill="#000"/>
<rect x="1421.00" y="2710.20" width="3.8" height="31.00" fill="#000"/>
<rect x="1499.90" y="2710.20" width="3.8" height="31.00" fill="#000"/>
<rect x="1421.00" y="2765.00" width="3.8" height="31.00" fill="#000"/>
<rect x="1499.90" y="2765.00" width="3.8" height="31.00" fill="#000"/>
<rect x="1601.30" y="2710.20" width="32.00" height="3.8" fill="#000"/>
<rect x="1601.30" y="2792.20" width="32.00" height="3.8" fill="#000"/>
<rect x="1652.00" y="2710.20" width="32.00" height="3.8" fill="#000"/>
<rect x="1652.00" y="2792.20" width="32.00" height="3.8" fill="#000"/>
<rect x="1601.30" y="2710.20" width="3.8" height="31.00" fill="#000"/>
<rect x="1680.20" y="2710.20" width="3.8" height="31.00" fill="#000"/>
<rect x="1601.30" y="2765.00" width="3.8" height="31.00" fill="#000"/>
<rect x="1680.20" y="2765.00" width="3.8" height="31.00" fill="#000"/>
<text transform="translate(120,1694.0) rotate(-90) scale(1,1.0)" font-size="22.85">C0661-15</text>
<text transform="translate(180,1694.0) rotate(-90) scale(1,1.0)" font-size="22.85">C0661-16</text>
<text transform="translate(360,1694.0) rotate(-90) scale(1,1.0)" font-size="22.85">C0661-17</text>
<text transform="translate(540.5,1694.0) rotate(-90) scale(1,1.0)" font-size="22.85">C0661-19</text>
<text transform="translate(721,1694.0) rotate(-90) scale(1,1.0)" font-size="22.85">C0661-22</text>
<text transform="translate(901,1694.0) rotate(-90) scale(1,1.0)" font-size="22.85">C0661-23</text>
<text transform="translate(1261.5,1694.0) rotate(-90) scale(1,1.0)" font-size="22.85">C0661-24</text>
<text transform="translate(1442,1685.0) rotate(-90) scale(1,1.0)" font-size="22.85">C0661-25</text>
<text transform="translate(1622,1679.0) rotate(-90) scale(1,1.0)" font-size="22.85">C0662-2</text>
<text transform="translate(120,1902.9) rotate(-90) scale(1,1.0)" font-size="22.85">NU,0.5D,3895</text>
<text transform="translate(180,1902.9) rotate(-90) scale(1,1.0)" font-size="22.85">NW,0.5D,3895</text>
<text transform="translate(360,1902.9) rotate(-90) scale(1,1.0)" font-size="22.85">R,0.35D,2350</text>
<text transform="translate(540.5,1902.9) rotate(-90) scale(1,1.0)" font-size="22.85">WY,0.35D,3355</text>
<text transform="translate(721,1902.9) rotate(-90) scale(1,1.0)" font-size="22.85">NY,0.35D,3445</text>
<text transform="translate(901,1902.9) rotate(-90) scale(1,1.0)" font-size="22.85">NR,0.35D,2045</text>
<text transform="translate(1261.5,1902.9) rotate(-90) scale(1,1.0)" font-size="22.85">NR,0.35D,2070</text>
<text transform="translate(1442,1902.9) rotate(-90) scale(1,1.0)" font-size="22.85">BG,0.35D,3525</text>
<text transform="translate(1622.5,1902.9) rotate(-90) scale(1,1.0)" font-size="22.85">US,2.5D,6790</text>
<text transform="translate(1261.5,2038.2) rotate(-90) scale(1,1.0)" font-size="22.85">C0436-8</text>
<text transform="translate(1261.5,2049.3) rotate(-90) scale(1,1.0)" font-size="22.85" text-anchor="end">C0803-8</text>
<text transform="translate(1622.5,2038.2) rotate(-90) scale(1,1.0)" font-size="22.85">C0435-27</text>
<text transform="translate(1622.5,2049.3) rotate(-90) scale(1,1.0)" font-size="22.85" text-anchor="end">C0803-27</text>
<text transform="translate(901,2545.0) rotate(-90) scale(1,1.0)" font-size="22.85">NR,0.35D,1310</text>
<text transform="translate(1081,2545.0) rotate(-90) scale(1,1.0)" font-size="22.85">NR,0.35D,1480</text>
<text transform="translate(1261.5,2545.0) rotate(-90) scale(1,1.0)" font-size="22.85">NY,0.35D,1720</text>
<text transform="translate(1622.5,2545.0) rotate(-90) scale(1,1.0)" font-size="22.85">US,2.5D,550</text>
<text transform="translate(120,2693.2) rotate(-90) scale(1,1.0)" font-size="22.85">C0546-1</text>
<text transform="translate(180,2693.2) rotate(-90) scale(1,1.0)" font-size="22.85">C0546-3</text>
<text transform="translate(360,2693.2) rotate(-90) scale(1,1.0)" font-size="22.85">C2733-6</text>
<text transform="translate(540.5,2689.2) rotate(-90) scale(1,1.0)" font-size="22.85">C0230-22</text>
<text transform="translate(721,2689.2) rotate(-90) scale(1,1.0)" font-size="22.85">C2022-21</text>
<text transform="translate(901,2693.2) rotate(-90) scale(1,1.0)" font-size="22.85">C0230-7</text>
<text transform="translate(1081,2683.2) rotate(-90) scale(1,1.0)" font-size="22.85">C2055-9</text>
<text transform="translate(1261.5,2693.2) rotate(-90) scale(1,1.0)" font-size="22.85">C2015-2</text>
<text transform="translate(1442,2693.2) rotate(-90) scale(1,1.0)" font-size="22.85">C0278-9</text>
<text transform="translate(1622,2693.2) rotate(-90) scale(1,1.0)" font-size="22.85">C0304-2</text>
<text transform="translate(60.5,2795) rotate(-90) scale(1,1.0)" font-size="28.9">ECU-Delay-Windscreen-</text>
<text transform="translate(90.5,2795) rotate(-90) scale(1,1.0)" font-size="28.9">wiper (D113)</text>
<text transform="translate(300.5,2795) rotate(-90) scale(1,1.0)" font-size="28.9">Relay-Headlamp-</text>
<text transform="translate(331,2795) rotate(-90) scale(1,1.0)" font-size="28.9">wash/wipe (R242)</text>
<text transform="translate(511.3,2795) rotate(-90) scale(1,1.0)" font-size="28.9">Instrument cluster (J100)</text>
<text transform="translate(691.5,2795) rotate(-90) scale(1,1.0)" font-size="28.9">Auxiliary junction box (P107)</text>
<text transform="translate(871.5,2795) rotate(-90) scale(1,1.0)" font-size="28.9">Instrument cluster (J100)</text>
<text transform="translate(1021.5,2795) rotate(-90) scale(1,1.0)" font-size="28.9">ECU-Steering-</text>
<text transform="translate(1052.5,2795) rotate(-90) scale(1,1.0)" font-size="28.9">Lock (D273)</text>
<text transform="translate(1202,2795) rotate(-90) scale(1,1.0)" font-size="28.9">Sensor-Anti-trap-</text>
<text transform="translate(1232.5,2795) rotate(-90) scale(1,1.0)" font-size="28.9">Rear-RH (T286)</text>
<text transform="translate(1382,2795) rotate(-90) scale(1,1.0)" font-size="28.9">Switch-Steering column-</text>
<text transform="translate(1412,2795) rotate(-90) scale(1,1.0)" font-size="28.9">Wiper (S174)</text>
<text transform="translate(1561.5,2795) rotate(-90) scale(1,1.0)" font-size="28.9">Motor-Window-</text>
<text transform="translate(1591.5,2795) rotate(-90) scale(1,1.0)" font-size="28.9">Rear-LH (M112)</text>
</svg>
</body></html>
